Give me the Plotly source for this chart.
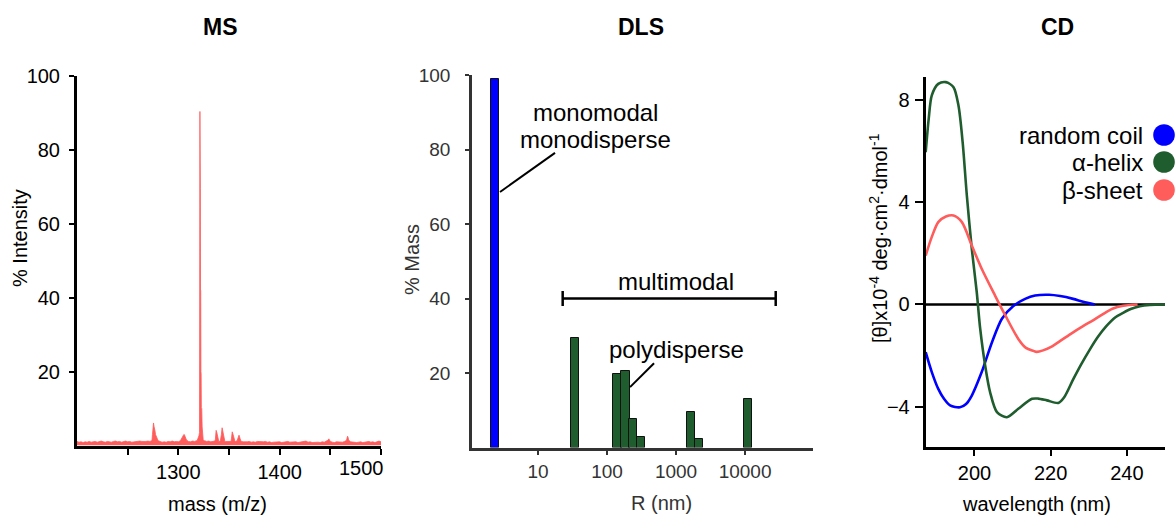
import numpy as np
import plotly.graph_objects as go

W, H = 1176, 515
FONT = "Liberation Sans, Arial, Helvetica, sans-serif"

# ---------------- MS data ----------------
ms_base_start, ms_base_step = 1200, 2
ms_base_int = [
    1.1, 0.9, 1.0, 0.8, 1.0, 0.9, 1.1, 0.9, 1.0, 1.1,   # 1200-1218
    0.9, 1.0, 1.2, 1.0, 0.9, 1.1, 1.0, 0.9, 1.1, 1.2,   # 1220-1238
    1.0, 1.1, 0.9, 1.0, 1.2, 1.0, 1.1, 0.9, 1.0, 1.1,   # 1240-1258
    1.0, 1.2, 1.1, 1.0, 1.1, 1.2, 1.1, 1.4, 5.2, 2.6,   # 1260-1278
    1.3, 1.1, 0.9, 1.0, 0.9, 1.1, 1.0, 1.2, 1.0, 1.1,   # 1280-1298
    1.0, 1.3, 2.5, 2.9, 1.5, 1.1, 1.0, 1.2, 1.1, 1.3,   # 1300-1318
    2.3, 42.0, 2.2, 1.3, 1.1, 1.2, 1.0, 1.1, 1.2, 3.5,  # 1320-1338
    1.0, 1.8, 3.5, 1.0, 1.1, 1.0, 1.1, 3.0, 1.0, 1.3,   # 1340-1358
    2.7, 1.1, 1.0, 0.9, 1.0, 1.1, 0.9, 1.0, 0.9, 1.1,   # 1360-1378
    1.0, 0.9, 1.0, 1.1, 0.9, 1.0, 0.8, 0.9, 1.0, 0.9,   # 1380-1398
    1.0, 0.8, 0.9, 1.0, 1.1, 0.9, 1.0, 0.9, 1.0, 0.8,   # 1400-1418
    0.9, 1.1, 1.0, 1.2, 0.9, 1.0, 0.8, 0.9, 1.0, 0.9,   # 1420-1438
    0.8, 1.0, 0.9, 1.1, 1.5, 1.1, 0.9, 0.8, 1.0, 0.9,   # 1440-1458
    1.0, 0.9, 1.1, 1.4, 1.5, 1.0, 0.9, 1.0, 0.8, 0.9,   # 1460-1478
    1.0, 0.8, 0.9, 1.0, 1.1, 0.9, 1.0, 0.8, 0.9, 1.2,   # 1480-1498
    1.0,                                                # 1500
]
ms_base_mass = [ms_base_start + ms_base_step * i for i in range(len(ms_base_int))]

ms_peak_mass = [1273.5, 1274.5, 1275.0, 1275.5, 1276.5, 1277.0, 1277.5, 1278.5, 1279.5,
                1303.5, 1304.5, 1305.5, 1306.5, 1307.5,
                1318.5, 1319.5, 1320.3, 1320.9, 1321.1, 1321.3, 1321.5, 1321.7, 1321.9,
                1322.1, 1322.3, 1322.5, 1322.7, 1323.1, 1323.5, 1323.9, 1324.5, 1325.5,
                1336.5, 1337.3, 1338.5, 1339.5, 1341.5, 1342.5, 1343.2, 1344.5, 1345.5,
                1352.5, 1353.2, 1354.5, 1355.5, 1359.3, 1359.9, 1361.0,
                1448.5, 1466.5, 1467.0, 1467.5]
ms_peak_int = [1.3, 3.0, 5.6, 6.1, 4.8, 3.9, 3.0, 2.2, 1.5,
               2.2, 2.8, 3.0, 2.6, 2.0,
               1.3, 2.0, 2.6, 3.5, 60.0, 90.4, 70.0, 69.5, 42.0,
               42.0, 20.0, 19.5, 10.3, 10.0, 5.0, 2.5, 1.6, 1.2,
               1.5, 4.1, 3.0, 1.4, 1.3, 3.0, 4.8, 2.5, 1.2,
               2.0, 3.7, 2.2, 1.3, 2.4, 2.8, 1.8,
               1.8, 2.0, 2.5, 2.2]
ms_tick_labeled = [1300, 1400]
ms_tick_minor = [1250, 1350, 1450, 1500]   # 1500 label drawn offset, as in the original

ms_pairs = sorted(zip(ms_base_mass + ms_peak_mass, ms_base_int + ms_peak_int))
ms_mass = [p[0] for p in ms_pairs]
ms_int = [p[1] for p in ms_pairs]

# ---------------- DLS data ----------------
dls_mono_R = [2.38]
dls_mono_mass = [98.8]
dls_poly_R = [34, 142, 185, 240, 314, 1640, 2140, 11100]
dls_poly_mass = [29.5, 19.8, 20.6, 7.6, 2.7, 9.6, 2.3, 13.1]
dls_tick_R = [10, 100, 1000, 10000]

# ---------------- CD data ----------------
cd_coil_wl = [187.2, 188.8, 190.5, 192.0, 193.6, 196.2, 197.8, 199.3, 201.9, 204.6,
              207.2, 210.2, 213.3, 215.9, 219.6, 222.5, 225.9, 228.5, 231.6]
cd_coil = [-1.87, -2.65, -3.31, -3.70, -3.96, -4.03, -3.90, -3.57, -2.65, -1.48,
           -0.56, -0.06, 0.22, 0.35, 0.38, 0.33, 0.22, 0.11, 0.0]
cd_helix_wl = [187.2, 188.0, 188.8, 190.5, 192.5, 194.5, 195.8, 196.9, 198.0, 199.3,
               200.6, 201.5, 202.8, 204.1, 205.9, 208.5, 211.5, 215.1, 216.7, 219.0,
               222.0, 223.5, 225.9, 228.0, 230.3, 232.5, 234.6, 237.0, 239.0, 241.0,
               243.4, 246.0, 250.0]
cd_helix = [5.97, 7.3, 8.2, 8.65, 8.72, 8.52, 7.8, 6.36, 4.27, 2.18,
            0.48, -0.95, -2.39, -3.44, -4.22, -4.42, -4.09, -3.70, -3.69, -3.76,
            -3.86, -3.65, -2.94, -2.35, -1.76, -1.25, -0.85, -0.5, -0.33, -0.18,
            -0.07, -0.02, 0.0]
cd_sheet_wl = [187.2, 188.8, 190.5, 192.5, 194.5, 196.7, 199.3, 201.9, 205.4, 208.1,
               211.5, 213.5, 215.5, 216.3, 218.0, 220.5, 223.0, 225.7, 228.5, 231.0,
               233.5, 236.2, 239.0, 242.8]
cd_sheet = [1.92, 2.65, 3.23, 3.45, 3.49, 3.23, 2.31, 1.4, 0.35, -0.43,
            -1.35, -1.70, -1.82, -1.86, -1.80, -1.63, -1.38, -1.11, -0.85, -0.63,
            -0.40, -0.17, -0.05, 0.0]
cd_names = ["random coil", "α-helix", "β-sheet"]

RED = "#ff5c5c"
BLUE = "#0000ff"
GREEN = "#1f5c2e"
DARK = "#333333"

def px_x(p):
    return p / W

def px_y(p):
    return 1 - p / H

fig = go.Figure()

# MS
fig.add_trace(go.Scatter(x=ms_mass, y=ms_int, mode="lines", fill="tozeroy",
                         line=dict(color=RED, width=0.8), fillcolor=RED,
                         xaxis="x", yaxis="y", showlegend=False, hoverinfo="skip"))

# DLS
fig.add_trace(go.Bar(x=np.log10(dls_mono_R), y=dls_mono_mass, width=0.125,
                     marker=dict(color=BLUE, line=dict(color="#111111", width=1)),
                     xaxis="x2", yaxis="y2", showlegend=False))
fig.add_trace(go.Bar(x=np.log10(dls_poly_R), y=dls_poly_mass, width=0.118,
                     marker=dict(color=GREEN, line=dict(color="#111111", width=1)),
                     xaxis="x2", yaxis="y2", showlegend=False))

# CD
for wl, vals, col in [(cd_coil_wl, cd_coil, BLUE), (cd_helix_wl, cd_helix, GREEN),
                      (cd_sheet_wl, cd_sheet, RED)]:
    fig.add_trace(go.Scatter(x=wl, y=vals, mode="lines",
                             line=dict(color=col, width=2.6, shape="spline", smoothing=0.8),
                             xaxis="x3", yaxis="y3", showlegend=False, cliponaxis=True))

axis_common = dict(showgrid=False, zeroline=False, showline=True, ticks="outside",
                   automargin=False, fixedrange=True)

fig.update_layout(
    width=W, height=H, margin=dict(l=0, r=0, t=0, b=0),
    paper_bgcolor="white", plot_bgcolor="white",
    font=dict(family=FONT, color="black", size=20),
    bargap=0,
    xaxis=dict(domain=[px_x(77), px_x(381)], range=[1200, 1500], anchor="y",
               tickvals=ms_tick_labeled,
               minor=dict(tickvals=ms_tick_minor, ticks="outside", ticklen=6, tickwidth=2,
                          tickcolor="black", showgrid=False),
               linecolor="black", linewidth=3, tickcolor="black", tickwidth=2, ticklen=6,
               tickfont=dict(size=20), ticklabelstandoff=0, **axis_common),
    yaxis=dict(domain=[px_y(445.5), px_y(76)], range=[0, 100], anchor="x",
               tickvals=[20, 40, 60, 80, 100],
               linecolor="black", linewidth=3, tickcolor="black", tickwidth=2, ticklen=5,
               tickfont=dict(size=20), ticklabelstandoff=5, **axis_common),
    xaxis2=dict(domain=[px_x(472), px_x(812.7)], range=[0.043, 4.98], anchor="y2",
                tickvals=list(np.log10(dls_tick_R)), ticktext=[str(r) for r in dls_tick_R],
                linecolor=DARK, linewidth=2.5, tickcolor=DARK, tickwidth=2, ticklen=5,
                tickfont=dict(size=19, color=DARK), ticklabelstandoff=0, **axis_common),
    yaxis2=dict(domain=[px_y(447.5), px_y(75)], range=[0, 100], anchor="x2",
                tickvals=[20, 40, 60, 80, 100],
                linecolor=DARK, linewidth=2.5, tickcolor=DARK, tickwidth=2, ticklen=4,
                tickfont=dict(size=19, color=DARK), ticklabelstandoff=11, **axis_common),
    xaxis3=dict(domain=[px_x(925.7), px_x(1165)], range=[187.2, 250], anchor="y3",
                tickvals=[200, 220, 240],
                linecolor="black", linewidth=3, tickcolor="black", tickwidth=2, ticklen=6,
                tickfont=dict(size=20), ticklabelstandoff=0, **axis_common),
    yaxis3=dict(domain=[px_y(447.3), px_y(76.5)], range=[-5.6, 8.94], anchor="x3",
                tickvals=[-4, 0, 4, 8],
                linecolor="black", linewidth=3, tickcolor="black", tickwidth=2, ticklen=8,
                tickfont=dict(size=20), ticklabelstandoff=1, **axis_common),
)

shapes = []
# CD zero line
shapes.append(dict(type="line", xref="x3", yref="y3", x0=187.2, x1=250, y0=0, y1=0,
                   line=dict(color="black", width=2.5), layer="below"))
# DLS bracket & leaders
shapes.append(dict(type="line", xref="x2", yref="y2", x0=1.357, x1=4.444, y0=40, y1=40,
                   line=dict(color="black", width=2.5)))
for xv in (1.357, 4.444):
    shapes.append(dict(type="line", xref="x2", yref="y2", x0=xv, x1=xv, y0=38, y1=42,
                       line=dict(color="black", width=2.5)))
shapes.append(dict(type="line", xref="x2", yref="y2", x0=1.246, x1=0.449, y0=79.1, y1=68.6,
                   line=dict(color="black", width=2)))
shapes.append(dict(type="line", xref="x2", yref="y2", x0=2.681, x1=2.333, y0=22.6, y1=16.2,
                   line=dict(color="black", width=2)))
# legend dots
leg_rows = [135, 162, 190]
for yy, col in zip(leg_rows, [BLUE, GREEN, RED]):
    r = 10.8
    shapes.append(dict(type="circle", xref="paper", yref="paper",
                       x0=px_x(1164 - r), x1=px_x(1164 + r), y0=px_y(yy + r), y1=px_y(yy - r),
                       fillcolor=col, line=dict(width=0)))
fig.update_layout(shapes=shapes)

ann = []
def text(x, y, s, size=20, bold=False, color="black", angle=0, xanchor="center"):
    ann.append(dict(x=px_x(x), y=px_y(y), xref="paper", yref="paper",
                    text=f"<b>{s}</b>" if bold else s,
                    showarrow=False, font=dict(size=size, color=color, family=FONT),
                    textangle=angle, xanchor=xanchor, yanchor="middle"))

text(221, 27, "MS", 23, bold=True)
text(641, 27, "DLS", 23, bold=True)
text(1057, 27, "CD", 23, bold=True)
text(361, 468, "1500", 20)
text(217, 504, "mass (m/z)", 20)
text(661, 503, "R (nm)", 20, color=DARK)
text(1036, 504, "wavelength (nm)", 20)
text(20, 238, "% Intensity", 20, angle=-90)
text(412, 260, "% Mass", 20, angle=-90, color=DARK)
text(878, 238, "[θ]x10<sup>-4</sup> deg·cm<sup>2</sup>·dmol<sup>-1</sup>", 20, angle=-90)
# DLS labels
ann.append(dict(x=1.826, y=90.0, xref="x2", yref="y2", text="monomodal", showarrow=False,
                font=dict(size=24, family=FONT, color="black")))
ann.append(dict(x=1.826, y=82.8, xref="x2", yref="y2", text="monodisperse", showarrow=False,
                font=dict(size=24, family=FONT, color="black")))
ann.append(dict(x=2.997, y=44.6, xref="x2", yref="y2", text="multimodal", showarrow=False,
                font=dict(size=24, family=FONT, color="black")))
ann.append(dict(x=3.01, y=26.4, xref="x2", yref="y2", text="polydisperse", showarrow=False,
                font=dict(size=24, family=FONT, color="black")))
# legend text
for yy, name in zip(leg_rows, cd_names):
    text(1145, yy, name, 24, xanchor="right")
fig.update_layout(annotations=ann)

fig.write_html("out.html")
